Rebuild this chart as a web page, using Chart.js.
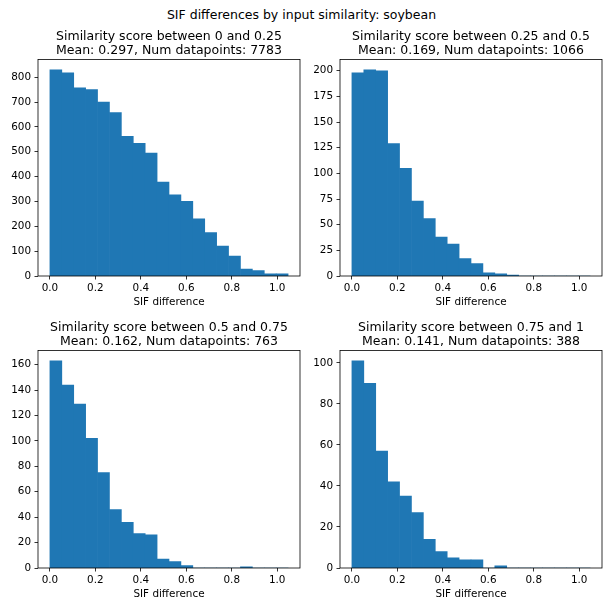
<!DOCTYPE html>
<html lang="en">
<head>
<meta charset="UTF-8">
<title>SIF differences by input similarity: soybean</title>
<script src="https://cdn.jsdelivr.net/npm/chart.js"></script>
<style>
  html, body { margin: 0; padding: 0; background: #fff; overflow: hidden; }
  body { width: 603px; height: 599px; position: relative; font-family: "DejaVu Sans", sans-serif; }
  #suptitle { position: absolute; left: 0; top: 7px; width: 603px; text-align: center;
              font-size: 12.5px; line-height: 15px; color: #000; }
  canvas { position: absolute; }
</style>
</head>
<body>
<div id="suptitle">SIF differences by input similarity: soybean</div>
<canvas id="h0" width="301" height="309" style="left:0px;top:0px"></canvas>
<canvas id="h1" width="303" height="309" style="left:300px;top:0px"></canvas>
<canvas id="h2" width="301" height="310" style="left:0px;top:291px"></canvas>
<canvas id="h3" width="303" height="310" style="left:300px;top:291px"></canvas>
<script>
// histogram bin edges (20 bins, shared by all panels)
const binEdges = [0, 0.0524, 0.1048, 0.1572, 0.2096, 0.262, 0.3144, 0.3668, 0.4192, 0.4716,
                  0.524, 0.5764, 0.6288, 0.6812, 0.7336, 0.786, 0.8384, 0.8908, 0.9432, 0.9956, 1.048];

// counts per bin
const counts0to025   = [830, 818, 757, 750, 700, 658, 562, 534, 495, 378, 327, 301, 230, 175, 120, 80, 28, 22, 9, 9];
const counts025to05  = [198, 201, 200, 129, 105, 73, 56, 38, 31, 17, 12, 3, 2, 1, 0, 0, 0, 0, 0, 0];
const counts05to075  = [163, 144, 129, 102, 75, 46, 36, 27, 26, 7, 5, 2, 0, 0, 0, 0, 1, 0, 0, 0];
const counts075to1   = [101, 90, 57, 42, 35, 27, 14, 8, 5, 4, 4, 0, 1, 0, 0, 0, 0, 0, 0, 0];

const rangeLabels = ['0 and 0.25', '0.25 and 0.5', '0.5 and 0.75', '0.75 and 1'];
const means = ['0.297', '0.169', '0.162', '0.141'];
const numPoints = [7783, 1066, 763, 388];
const yStepSizes = [100, 25, 20, 20];
const xTicks = [0.0, 0.2, 0.4, 0.6, 0.8, 1.0];

Chart.defaults.font.family = "'DejaVu Sans', sans-serif";
Chart.defaults.color = '#000';

// matplotlib-like box around the axes
const frame = {
  id: 'frame',
  afterDraw(chart) {
    const {ctx, chartArea: a} = chart;
    ctx.save();
    ctx.strokeStyle = '#000';
    ctx.lineWidth = 0.8;
    ctx.strokeRect(a.left, a.top, a.right - a.left, a.bottom - a.top);
    ctx.restore();
  }
};

function drawHist(id, counts, idx, yAxisWidth) {
  const pts = counts.map((c, i) => ({x: (binEdges[i] + binEdges[i + 1]) / 2, y: c}));
  const xMax = binEdges[binEdges.length - 1];
  const pad = xMax * 0.05;
  new Chart(document.getElementById(id), {
    type: 'bar',
    data: {
      datasets: [{
        data: pts,
        backgroundColor: '#1f77b4',
        borderWidth: 0,
        barPercentage: 1,
        categoryPercentage: 1
      }]
    },
    options: {
      responsive: false,
      animation: false,
      layout: {padding: {left: 0, right: 1, top: 0, bottom: 0}},
      plugins: {
        legend: {display: false},
        tooltip: {enabled: false},
        title: {
          display: true,
          fullSize: false,
          text: ['Similarity score between ' + rangeLabels[idx],
                 'Mean: ' + means[idx] + ', Num datapoints: ' + numPoints[idx]],
          font: {size: 12.5, weight: 'normal', lineHeight: 1.17},
          color: '#000',
          padding: {top: 29, bottom: 1.2}
        }
      },
      scales: {
        x: {
          type: 'linear',
          offset: false,
          min: -pad,
          max: xMax + pad,
          afterBuildTicks: (s) => { s.ticks = xTicks.map(v => ({value: v})); },
          ticks: {
            font: {size: 10.4},
            color: '#000',
            padding: 2.5,
            maxRotation: 0,
            callback: (v) => Number(v).toFixed(1)
          },
          grid: {offset: false, drawOnChartArea: false, drawTicks: true, tickLength: 3.5, color: '#000', lineWidth: 0.8},
          border: {display: false},
          title: {display: true, text: 'SIF difference', font: {size: 10.4}, color: '#000', padding: {top: 0, bottom: 0}},
          afterFit: (s) => { s.height = 33; }
        },
        y: {
          min: 0,
          max: Math.max(...counts) * 1.05,
          ticks: {
            stepSize: yStepSizes[idx],
            includeBounds: false,
            font: {size: 10.4},
            color: '#000',
            padding: 3.5
          },
          grid: {drawOnChartArea: false, drawTicks: true, tickLength: 3.5, color: '#000', lineWidth: 0.8},
          border: {display: false},
          afterFit: (s) => { s.width = yAxisWidth; }
        }
      }
    },
    plugins: [frame]
  });
}

drawHist('h0', counts0to025, 0, 38);
drawHist('h1', counts025to05, 1, 40);
drawHist('h2', counts05to075, 2, 38);
drawHist('h3', counts075to1, 3, 40);
</script>
</body>
</html>
